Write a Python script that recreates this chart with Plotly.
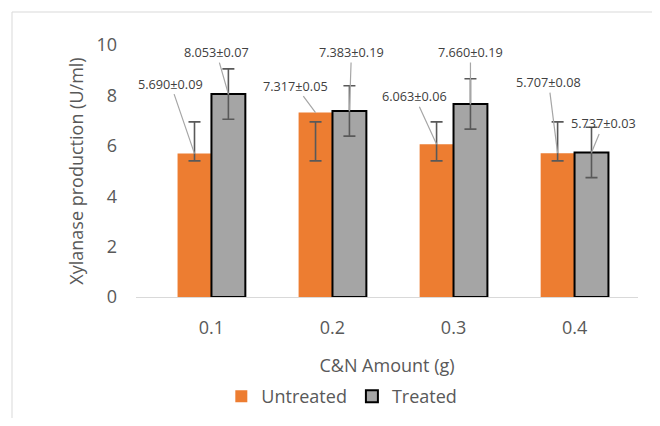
import plotly.graph_objects as go

categories = ["0.1", "0.2", "0.3", "0.4"]
untreated = [5.690, 7.317, 6.063, 5.707]
treated = [8.053, 7.383, 7.660, 5.737]
untreated_sd = ["0.09", "0.05", "0.06", "0.08"]
treated_sd = ["0.07", "0.19", "0.19", "0.03"]
# error bar ends as drawn in the chart
untreated_err_top = [6.95, 6.95, 6.95, 6.95]
untreated_err_bottom = [5.40, 5.40, 5.40, 5.40]
treated_err = [1.0, 1.0, 1.0, 1.0]

# label offsets (pixels, layout only)
u_off = [(-24, -70), (-20, -27), (-22, -48), (-9, -71)]
t_off = [(-12, -42), (2, -59), (0, -52), (12, -29)]

FONT = "Open Sans"
TXT = "#595959"
ERR = "#595959"

fig = go.Figure()
fig.add_trace(go.Bar(
    name="Untreated", x=categories, y=untreated,
    marker=dict(color="#ED7D31", line=dict(width=0)),
    error_y=dict(type="data", symmetric=False,
                 array=[t - v for t, v in zip(untreated_err_top, untreated)],
                 arrayminus=[v - b for b, v in zip(untreated_err_bottom, untreated)],
                 color=ERR, thickness=1.6, width=6),
))
fig.add_trace(go.Bar(
    name="Treated", x=categories, y=treated,
    marker=dict(color="#A5A5A5", line=dict(color="#000000", width=2)),
    error_y=dict(type="data", array=treated_err, color=ERR, thickness=1.6, width=6),
))

half = (1 - 0.44) / 4
annotations = []
for i in range(len(categories)):
    for vals, sds, offs, sgn in ((untreated, untreated_sd, u_off, -1), (treated, treated_sd, t_off, 1)):
        annotations.append(dict(
            x=i + sgn * half, y=vals[i], xref="x", yref="y",
            text=f"{vals[i]:.3f}±{sds[i]}",
            showarrow=True, arrowhead=0, arrowwidth=1.2, arrowcolor="#A6A6A6",
            ax=offs[i][0], ay=offs[i][1], standoff=0,
            font=dict(family=FONT, size=12.7, color="#404040"),
        ))

# page body keeps its default 8px margin, so the figure is sized to fit inside it
fig.update_layout(
    width=644, height=410,
    margin=dict(l=128, r=14, t=37, b=121, autoexpand=False),
    paper_bgcolor="white", plot_bgcolor="white",
    barmode="group", bargap=0.44, bargroupgap=0,
    font=dict(family=FONT, size=18, color=TXT),
    showlegend=True,
    legend=dict(orientation="h", x=0.41, xanchor="center", y=-0.395, yanchor="middle",
                font=dict(family=FONT, size=18, color=TXT), itemwidth=30),
    annotations=annotations,
    shapes=[dict(type="rect", xref="paper", yref="paper",
                 x0=(4 - 128) / 502, x1=1.3, y0=-0.8, y1=(289 - 4) / 252,
                 line=dict(color="#D9D9D9", width=1), layer="below")],
)
fig.update_xaxes(
    type="category", showline=True, linecolor="#D9D9D9", linewidth=1, automargin=False,
    showgrid=False, zeroline=False, ticks="", ticklabelstandoff=14,
    tickfont=dict(family=FONT, size=18, color=TXT),
    title=dict(text="C&N Amount (g)", standoff=21, font=dict(family=FONT, size=18, color=TXT)),
)
fig.update_yaxes(
    range=[0, 10], dtick=2, showgrid=False, zeroline=False, showline=False, automargin=False,
    ticks="", ticklabelstandoff=18,
    tickfont=dict(family=FONT, size=18, color=TXT),
    title=dict(text="Xylanase production (U/ml)", standoff=8, font=dict(family=FONT, size=18, color=TXT)),
)

fig.write_html("out.html")
